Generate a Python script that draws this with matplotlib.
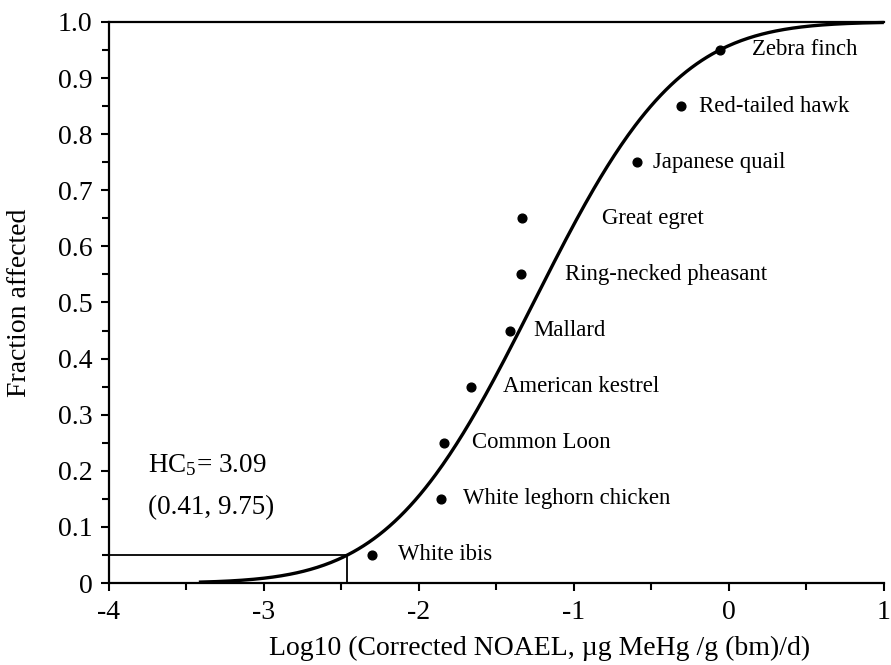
import math
import numpy as np
import matplotlib
matplotlib.use("Agg")
import matplotlib.pyplot as plt
from matplotlib.ticker import MultipleLocator, FixedLocator, FixedFormatter

species = ["White ibis", "White leghorn chicken", "Common Loon", "American kestrel",
           "Mallard", "Ring-necked pheasant", "Great egret", "Japanese quail",
           "Red-tailed hawk", "Zebra finch"]
log_noael = [-2.30, -1.86, -1.84, -1.665, -1.41, -1.34, -1.335, -0.594, -0.31, -0.058]
fraction = [0.05, 0.15, 0.25, 0.35, 0.45, 0.55, 0.65, 0.75, 0.85, 0.95]

# fitted log-normal SSD parameters (in log10 units)
fit_mu = -1.26
fit_sigma = 0.73
curve_start = -3.42
hc5_log = -2.465

x_ticks = [-4, -3, -2, -1, 0, 1]
x_ticklabels = ["-4", "-3", "-2", "-1", "0", "1"]
y_ticks = [0.0, 0.1, 0.2, 0.3, 0.4, 0.5, 0.6, 0.7, 0.8, 0.9, 1.0]
y_ticklabels = ["0", "0.1", "0.2", "0.3", "0.4", "0.5", "0.6", "0.7", "0.8", "0.9", "1.0"]

label_x = [-2.135, -1.716, -1.658, -1.458, -1.265, -1.058, -0.819, -0.490, -0.194, 0.148]

plt.rcParams['font.family'] = ['Liberation Serif', 'DejaVu Serif']
plt.rcParams['mathtext.fontset'] = 'custom'
plt.rcParams['mathtext.rm'] = 'Liberation Serif'
plt.rcParams['mathtext.it'] = 'Liberation Serif:italic'
plt.rcParams['mathtext.bf'] = 'Liberation Serif:bold'

fig = plt.figure(figsize=(8.91, 6.65), dpi=100)
ax = fig.add_axes([0.1223, 0.1233, 0.8697, 0.8437])

xs = np.linspace(curve_start, 1.0, 400)
ys = np.array([0.5 * (1 + math.erf((v - fit_mu) / (fit_sigma * math.sqrt(2)))) for v in xs])
ax.plot(xs, ys, color='black', lw=2.4, solid_capstyle='butt', clip_on=False, zorder=3)

ax.plot(log_noael, fraction, 'o', color='black', ms=6.3, zorder=4)

for lx, fy, name in zip(label_x, fraction, species):
    ax.text(lx, fy, name, fontsize=16.4, va='center', ha='left')

ax.plot([-4, hc5_log], [0.05, 0.05], color='black', lw=1.3, zorder=2)
ax.plot([hc5_log, hc5_log], [0, 0.05], color='black', lw=1.3, zorder=2)

ax.text(-3.748, 0.21, r"HC$_\mathrm{5}$= 3.09", fontsize=19.5, va='center', ha='left')
ax.text(-3.748, 0.134, "(0.41, 9.75)", fontsize=19.5, va='center', ha='left')

ax.set_xlim(-4, 1)
ax.set_ylim(0, 1)
ax.xaxis.set_major_locator(FixedLocator(x_ticks))
ax.xaxis.set_major_formatter(FixedFormatter(x_ticklabels))
ax.xaxis.set_minor_locator(MultipleLocator(0.5))
ax.yaxis.set_major_locator(FixedLocator(y_ticks))
ax.yaxis.set_major_formatter(FixedFormatter(y_ticklabels))
ax.yaxis.set_minor_locator(MultipleLocator(0.05))

ax.tick_params(which='both', direction='out', width=1.5, labelsize=20)
ax.tick_params(which='major', length=6, pad=6)
ax.tick_params(which='minor', length=5)
ax.tick_params(top=False, right=False)

for s in ['left', 'bottom', 'top']:
    ax.spines[s].set_linewidth(1.6)
ax.spines['right'].set_visible(False)

ax.set_xlabel("Log10 (Corrected NOAEL, µg MeHg /g (bm)/d)", fontsize=20)
ax.set_ylabel("Fraction affected", fontsize=20)
ax.xaxis.set_label_coords(0.556, -0.095)
ax.yaxis.set_label_coords(-0.099, 0.5)

fig.savefig("out.png", dpi=100)
